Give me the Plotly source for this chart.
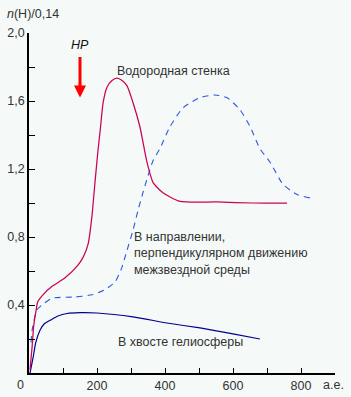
import plotly.graph_objects as go

# --- data ---
wall_x = [3, 9, 14, 21, 26, 41, 68, 106, 144, 159, 174, 185, 194, 203, 210, 218, 229, 244, 259, 274,
          288, 306, 326, 347, 365, 394, 444, 553, 659, 759]
wall_y = [0.02, 0.15, 0.28, 0.37, 0.42, 0.46, 0.51, 0.56, 0.635, 0.68, 0.76, 0.92, 1.12, 1.31, 1.44,
          1.59, 1.68, 1.72, 1.735, 1.72, 1.69, 1.59, 1.45, 1.24, 1.12, 1.06, 1.01, 1.006, 1.0, 1.0]

perp_x = [6, 9, 23, 38, 68, 135, 185, 223, 253, 273, 288, 306, 321, 335, 350, 365, 385, 415, 453,
          503, 547, 582, 620, 650, 679, 709, 747, 788, 826]
perp_y = [0.18, 0.25, 0.37, 0.40, 0.44, 0.447, 0.46, 0.49, 0.535, 0.62, 0.72, 0.84, 0.96, 1.06, 1.16,
          1.25, 1.32, 1.45, 1.56, 1.62, 1.635, 1.62, 1.55, 1.45, 1.32, 1.24, 1.11, 1.05, 1.03]

tail_x = [3, 12, 20, 32, 45, 62, 85, 112, 150, 200, 306, 406, 503, 600, 679]
tail_y = [0.0, 0.09, 0.18, 0.25, 0.29, 0.31, 0.335, 0.35, 0.355, 0.353, 0.33, 0.294, 0.265, 0.23, 0.2]

x_ticks = [0, 100, 200, 300, 400, 500, 600, 700, 800, 900]
x_ticktext = ["", "", "200", "", "400", "", "600", "", "800", ""]
y_ticks = [0, 0.2, 0.4, 0.6, 0.8, 1.0, 1.2, 1.4, 1.6, 1.8, 2.0]
y_ticktext = ["", "", "0,4", "", "0,8", "", "1,2", "", "1,6", "", "2,0"]

hp_x = 150

FONT = "Liberation Sans, Arial, sans-serif"
TXT = "#333333"
FS = 12.5

fig = go.Figure()
fig.add_trace(go.Scatter(x=tail_x, y=tail_y, mode="lines",
                         line=dict(color="#000090", width=1.2, shape="spline", smoothing=0.6)))
fig.add_trace(go.Scatter(x=perp_x, y=perp_y, mode="lines",
                         line=dict(color="#3355DD", width=1.1, dash="6px,5px", shape="spline", smoothing=0.6)))
fig.add_trace(go.Scatter(x=wall_x, y=wall_y, mode="lines",
                         line=dict(color="#CC0055", width=1.25, shape="spline", smoothing=0.6)))

ann = [
    dict(x=0, y=0, xref="x", yref="y", text="0", showarrow=False, xanchor="center", yanchor="top",
         xshift=-9, yshift=-3, font=dict(size=FS, color=TXT, family=FONT)),
    dict(x=1, y=0, xref="paper", yref="y", text="а.е.", showarrow=False, xanchor="center", yanchor="top",
         xshift=-2, yshift=-3, font=dict(size=FS, color=TXT, family=FONT)),
    dict(x=0, y=1, xref="paper", yref="paper", text="<i>n</i>(H)/0,14", showarrow=False,
         xanchor="left", yanchor="bottom", xshift=-24, yshift=10, font=dict(size=FS, color=TXT, family=FONT)),
    dict(x=hp_x, y=1.62, xref="x", yref="y", text="", showarrow=True, ax=0, ay=-42,
         arrowcolor="#FF0000", arrowwidth=3, arrowhead=2, arrowsize=0.8),
    dict(x=hp_x, y=1.87, xref="x", yref="y", text="<i>HP</i>", showarrow=False, xanchor="center",
         yanchor="bottom", yshift=1, font=dict(size=FS, color="#111111", family=FONT)),
    dict(x=253, y=1.775, xref="x", yref="y", text="Водородная стенка", showarrow=False, xanchor="left",
         yanchor="middle", font=dict(size=FS, color=TXT, family=FONT)),
    dict(x=303, y=0.705, xref="x", yref="y",
         text="В направлении,<br>перпендикулярном движению<br>межзвездной среды",
         showarrow=False, xanchor="left", yanchor="middle", align="left",
         font=dict(size=FS, color=TXT, family=FONT)),
    dict(x=255, y=0.18, xref="x", yref="y", text="В хвосте гелиосферы", showarrow=False,
         xanchor="left", yanchor="middle", font=dict(size=FS, color=TXT, family=FONT)),
]

fig.update_layout(
    width=351, height=397,
    margin=dict(l=29, r=16, t=33, b=24, autoexpand=False),
    paper_bgcolor="#F5FAF8", plot_bgcolor="#F5FAF8",
    showlegend=False,
    font=dict(family=FONT, size=FS, color=TXT),
    annotations=ann,
    xaxis=dict(range=[0, 900], showgrid=False, zeroline=False, showline=True, linecolor="black",
               linewidth=1.5, ticks="inside", ticklen=5, tickwidth=1.2, tickcolor="black",
               automargin=False, tickvals=x_ticks, ticktext=x_ticktext,
               tickfont=dict(size=FS, color=TXT)),
    yaxis=dict(range=[0, 2.0], showgrid=False, zeroline=False, showline=True, linecolor="black",
               linewidth=1.5, ticks="inside", ticklen=6, tickwidth=1.2, tickcolor="black",
               automargin=False, tickvals=y_ticks, ticktext=y_ticktext,
               tickfont=dict(size=FS, color=TXT)),
)

fig.write_html("out.html")
